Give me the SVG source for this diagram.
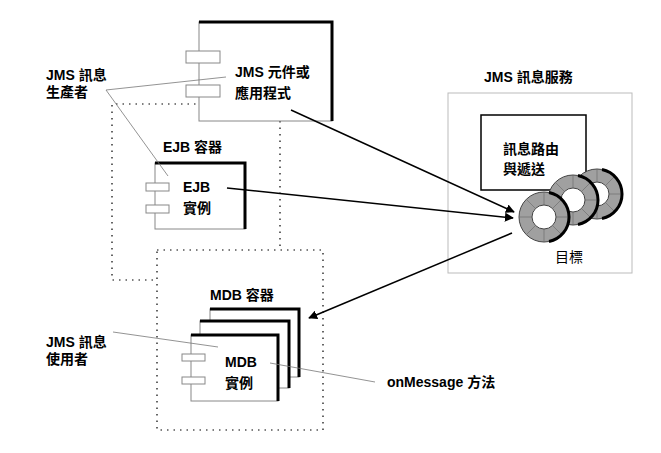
<svg xmlns="http://www.w3.org/2000/svg" width="661" height="453" viewBox="0 0 661 453">
<style>
text{font-family:"Liberation Sans","Noto Sans CJK TC",sans-serif;font-size:14px;font-weight:bold;fill:#000}
.n{font-weight:normal}
.box{fill:#fff;stroke:#888;stroke-width:1}
.sh{fill:none;stroke:#000;stroke-width:3}
.tab{fill:#fff;stroke:#888;stroke-width:1}
.dot{fill:none;stroke:#000;stroke-width:1.2;stroke-dasharray:1.5 5}
.thin{fill:none;stroke:#777;stroke-width:0.8}
.arr{fill:none;stroke:#000;stroke-width:1.5;marker-end:url(#ah)}
.ring{fill:#a0a0a0;stroke:#444;stroke-width:1}
</style>
<defs>
<marker id="ah" viewBox="0 0 10 10" refX="9" refY="5" markerWidth="6" markerHeight="6" orient="auto" markerUnits="strokeWidth">
<path d="M0,0 L10,5 L0,10 z" fill="#000"/>
</marker>
<g id="ringg">
<circle r="25" class="ring"/>
<circle r="12" fill="#fff" stroke="#444"/>
<path d="M0,-25V-12M0,12V25M-25,0H-12M12,0H25M-17.7,-17.7L-8.5,-8.5M17.7,17.7L8.5,8.5M-17.7,17.7L-8.5,8.5M17.7,-17.7L8.5,-8.5" stroke="#666" stroke-width="0.6"/>
<path d="M5,-24.5A25,25 0 0 1 5,24.5" fill="none" stroke="#000" stroke-width="3"/>
</g>
</defs>
<g id="ejb-container"><path class="dot" d="M280,121V250M280,104H112V280H157"/><text x="163" y="152">EJB 容器</text></g>
<g id="mdb-container"><rect class="dot" x="157" y="250" width="166" height="180"/><text x="210" y="300">MDB 容器</text></g>
<g id="jms-component">
<rect class="box" x="199" y="22" width="133" height="99"/>
<path class="sh" d="M199,22H332V121"/>
<rect class="tab" x="186" y="51" width="34" height="12"/>
<rect class="tab" x="186" y="85" width="34" height="12"/>
<text x="235" y="77">JMS 元件或</text><text x="235" y="98">應用程式</text>
</g>
<g id="ejb-instance">
<rect class="box" x="155" y="163" width="90" height="66"/>
<path class="sh" d="M155,163H245V229"/>
<rect class="tab" x="146" y="183" width="23" height="8"/>
<rect class="tab" x="146" y="205" width="23" height="8"/>
<text x="183" y="192">EJB</text><text x="183" y="213">實例</text>
</g>
<g id="mdb-instance">
<rect class="box" x="210" y="309" width="89" height="68"/><path class="sh" d="M210,309H299V377"/>
<rect class="box" x="200" y="321" width="89" height="67"/><path class="sh" d="M200,321H289V388"/>
<rect class="box" x="191" y="335" width="87" height="66"/><path class="sh" d="M191,335H278V401"/>
<rect class="tab" x="182" y="354" width="23" height="7"/>
<rect class="tab" x="182" y="377" width="23" height="7"/>
<text x="225" y="367">MDB</text><text x="225" y="388">實例</text>
</g>
<g id="jms-service">
<rect x="448" y="93" width="184" height="180" fill="#fff" stroke="#bbb"/>
<text x="484" y="82">JMS 訊息服務</text>
<rect x="481" y="115" width="105" height="75" fill="#fff" stroke="#000" stroke-width="1.5"/>
<text x="503" y="154">訊息路由</text><text x="503" y="174">與遞送</text>
<use href="#ringg" x="597" y="194"/>
<use href="#ringg" x="573" y="200"/>
<use href="#ringg" x="544" y="217"/>
<text class="n" x="555" y="262">目標</text>
</g>
<g id="labels">
<text x="46" y="80">JMS 訊息</text><text x="46" y="97">生產者</text>
<text x="46" y="347">JMS 訊息</text><text x="46" y="364">使用者</text>
<text x="387" y="387">onMessage 方法</text>
</g>
<g id="connectors">
<path class="thin" d="M226,77L106,90L168,176"/>
<path class="thin" d="M113,332L218,347"/>
<path class="thin" d="M270,363L375,382"/>
<path class="arr" d="M291,110L514,212"/>
<path class="arr" d="M227,188L513,218"/>
<path class="arr" d="M512,233L309,318"/>
</g>
</svg>
